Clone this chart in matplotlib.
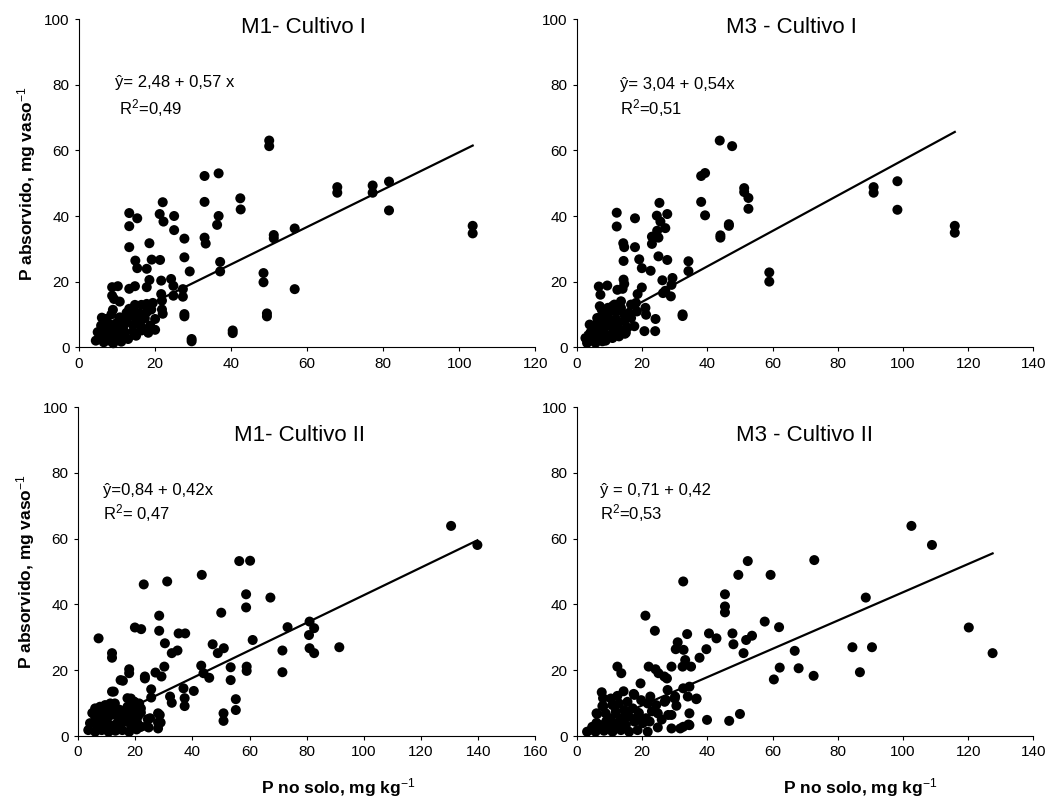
import numpy as np
import matplotlib
matplotlib.use('Agg')
import matplotlib.pyplot as plt

plt.rcParams['font.family'] = ['Liberation Sans', 'DejaVu Sans']
plt.rcParams['mathtext.fontset'] = 'custom'
plt.rcParams['mathtext.rm'] = 'Liberation Sans'
plt.rcParams['mathtext.it'] = 'Liberation Sans:italic'
plt.rcParams['mathtext.bf'] = 'Liberation Sans:bold'

# M1 - Cultivo I
x1 = [4.4, 6.2, 8.0, 9.8, 11.1, 12.9, 4.9, 6.7, 8.4, 10.2, 12.0, 14.2, 16.4, 18.2, 20.0,
      5.8, 8.0, 9.8, 12.0, 14.2, 16.0, 18.7, 7.1, 10.7, 12.4, 17.3, 20.0,
      13.8, 16.0, 17.8, 21.8, 22.0, 8.9, 13.2, 14.7, 16.4, 17.8, 19.4,
      9.2, 10.7, 21.6, 21.8, 8.7, 10.2, 13.2, 14.7, 17.8, 8.7,
      18.5, 21.6, 24.2, 15.3, 17.8, 14.8, 19.1, 21.3, 13.2, 18.5,
      13.2, 15.3, 13.2, 21.2, 22.0, 22.2, 5.5, 7.5, 9.0, 11.5, 6.5, 15.0, 11.5,
      7.0, 9.5, 11.0, 13.5, 15.5, 10.0, 12.5, 14.5, 19.0, 16.5, 6.0, 8.5,
      25.0, 25.0, 27.7, 27.7, 24.8, 24.8, 27.3, 27.3, 27.7, 27.7, 29.1, 29.6, 29.6,
      33.0, 36.7, 33.0, 33.0, 33.3, 36.3, 36.7, 37.1, 37.1,
      40.4, 40.4, 42.4, 42.5, 48.5, 48.5, 49.4, 49.4, 50.0, 50.0, 51.2, 51.2,
      56.7, 56.7, 67.9, 67.9, 77.2, 77.2, 81.5, 81.5, 103.5, 103.5]
y1 = [2.0, 2.5, 2.0, 2.5, 1.7, 2.5, 4.6, 5.1, 4.6, 5.1, 4.6, 4.8, 5.1, 4.4, 5.3,
      6.6, 7.1, 6.4, 7.1, 6.8, 7.1, 6.6, 8.6, 9.1, 8.6, 8.8, 8.6,
      10.2, 10.2, 10.7, 11.5, 10.2, 11.4, 11.7, 12.9, 12.9, 13.2, 13.5,
      14.7, 13.9, 16.2, 14.2, 18.3, 18.6, 17.8, 18.6, 18.3, 15.7,
      20.5, 20.3, 20.8, 24.1, 23.9, 26.4, 26.7, 26.6, 30.5, 31.7,
      40.9, 39.3, 36.9, 40.6, 44.2, 38.3, 3.5, 3.0, 1.2, 3.5, 1.5, 3.5, 6.0,
      4.0, 3.8, 8.0, 9.5, 8.5, 7.5, 10.5, 11.0, 11.5, 6.0, 9.0, 10.0,
      40.0, 35.7, 33.1, 27.4, 18.7, 15.7, 17.7, 15.4, 10.1, 9.4, 23.1, 2.5, 1.8,
      52.2, 53.0, 44.3, 33.4, 31.6, 37.3, 40.0, 26.0, 23.1,
      5.1, 4.3, 45.4, 42.0, 22.6, 19.8, 10.3, 9.4, 63.0, 61.3, 34.2, 33.2,
      36.2, 17.7, 48.8, 47.1, 49.3, 47.1, 50.5, 41.7, 37.0, 34.7]

# M3 - Cultivo I
x2 = [43.8, 47.6, 38.1, 39.3, 51.3, 51.3, 52.6, 52.6, 59.0, 59.0, 91.0, 91.0, 98.3, 98.3, 115.9, 115.9,
      38.1, 39.3, 46.6, 46.6, 44.0, 44.0, 34.2, 34.2, 32.4, 32.4,
      12.2, 17.8, 12.2, 24.5, 27.7, 25.6, 27.1, 24.6, 23.0, 25.0, 23.0, 25.3,
      14.2, 14.5, 17.8, 14.3, 19.1, 25.0, 27.7, 19.9, 22.6,
      14.3, 14.5, 26.2, 29.3, 29.0, 6.7, 9.3, 7.2, 12.4, 14.0,
      19.9, 18.6, 27.1, 28.8, 26.4, 7.6, 10.9, 13.5, 16.6, 18.1,
      21.0, 21.2, 18.4, 24.1, 20.7, 24.0, 3.9,
      6.2, 9.3, 11.9, 14.5, 16.6, 17.6, 4.1, 6.2, 8.3, 10.3, 12.4, 15.0,
      2.6, 4.7, 6.7, 8.8, 10.9, 12.9, 3.1, 5.7, 7.8, 14.5, 10.3, 8.3, 14.7,
      5.0, 7.0, 9.0, 11.0, 13.0, 15.5, 4.0, 6.0, 8.0, 10.0, 12.0, 16.0, 9.5, 11.5, 13.5, 7.0]
y2 = [63.0, 61.3, 52.2, 53.1, 48.5, 47.3, 45.5, 42.2, 22.8, 20.0, 48.8, 47.1, 50.6, 41.9, 37.0, 34.9,
      44.3, 40.2, 37.5, 37.0, 34.1, 33.4, 26.2, 23.2, 10.0, 9.5,
      41.0, 39.3, 36.8, 40.1, 40.6, 38.3, 36.3, 35.5, 33.7, 33.4, 31.5, 44.0,
      31.7, 30.5, 30.5, 26.3, 26.8, 27.7, 26.6, 24.1, 23.3,
      20.6, 19.3, 20.4, 21.1, 19.0, 18.5, 18.8, 16.0, 17.5, 17.8,
      18.2, 16.2, 17.2, 15.5, 16.5, 11.4, 12.5, 14.0, 13.0, 13.5,
      12.0, 9.9, 10.9, 8.6, 4.9, 4.9, 6.9,
      8.9, 9.4, 10.9, 9.9, 8.9, 6.4, 4.4, 5.4, 5.9, 6.4, 6.9, 4.4,
      2.8, 2.3, 2.6, 2.0, 2.8, 3.3, 1.3, 1.3, 1.8, 7.9, 8.4, 7.7, 4.1,
      3.8, 4.0, 3.5, 4.5, 5.5, 6.0, 2.0, 7.0, 10.0, 11.0, 8.5, 10.5, 12.0, 13.0, 12.0, 12.5]

# M1 - Cultivo II
x3 = [130.5, 139.7, 56.4, 60.2, 43.3, 31.2, 23.0, 58.8, 58.8, 67.3, 50.1, 28.4, 28.4, 35.2, 37.5,
      19.9, 22.1, 30.4, 47.1, 51.0, 48.9, 34.8, 32.8, 61.1, 71.5, 73.3, 81.0, 80.8, 82.6, 81.0,
      82.6, 91.4, 71.5, 30.2, 29.2, 27.1, 43.1, 43.9, 45.9, 53.4, 53.4, 59.0, 59.0, 36.9, 37.3,
      37.3, 40.5, 32.2, 32.8, 55.2, 55.2, 50.9, 50.9, 7.2, 11.9, 11.9, 17.9, 17.9, 14.9, 11.9,
      12.5, 23.4, 23.4, 25.6, 25.6, 28.0, 28.0, 28.0, 24.4, 24.7, 21.8, 19.7, 20.3, 17.3, 21.2,
      6.0, 7.7, 9.5, 11.3, 12.9, 18.5, 19.6, 21.4, 22.0, 17.3, 19.0, 22.0,
      6.0, 8.3, 10.7, 13.1, 15.5, 17.9, 4.2, 6.5, 8.9, 11.3, 13.7, 16.1, 18.5, 20.8,
      3.6, 6.0, 8.3, 10.7, 13.1, 15.5, 17.9, 22.0, 25.2, 28.6, 28.9, 15.7, 12.5,
      5.0, 7.0, 9.5, 12.0, 14.5, 16.8, 19.5, 21.0, 24.0, 10.0, 14.0, 20.5]
y3 = [63.9, 58.1, 53.2, 53.3, 49.0, 47.0, 46.1, 43.1, 39.1, 42.1, 37.5, 36.6, 32.0, 31.2, 31.2,
      33.0, 32.5, 28.2, 27.9, 26.7, 25.2, 26.0, 25.2, 29.2, 26.0, 33.1, 34.8, 30.7, 32.8, 26.7,
      25.2, 27.0, 19.4, 21.1, 18.1, 19.3, 21.4, 19.1, 17.7, 20.9, 17.0, 21.1, 19.8, 14.5, 11.5,
      9.1, 13.7, 12.0, 10.1, 11.2, 7.9, 6.9, 4.6, 29.7, 25.2, 23.8, 20.3, 19.1, 17.0, 13.5,
      9.7, 18.1, 17.5, 14.2, 11.7, 6.9, 4.1, 2.3, 5.1, 2.6, 2.8, 10.4, 9.4, 11.5, 9.4,
      8.4, 8.9, 9.4, 9.9, 9.9, 11.4, 10.4, 9.9, 8.4, 8.9, 7.9, 7.1,
      5.9, 5.4, 5.9, 6.4, 5.9, 5.4, 3.9, 3.3, 3.9, 3.3, 3.9, 4.4, 3.3, 3.9,
      1.8, 1.3, 1.8, 1.3, 1.6, 1.8, 1.3, 2.8, 5.4, 6.4, 4.1, 16.8, 13.5,
      7.0, 7.0, 7.5, 8.0, 8.0, 7.0, 6.0, 6.0, 3.0, 2.5, 2.5, 2.0]

# M3 - Cultivo II
x4 = [102.6, 108.9, 52.4, 72.8, 49.5, 59.4, 32.6, 45.4, 45.4, 45.4, 88.6, 21.0, 23.9, 57.6, 62.0,
      120.2, 40.5, 47.7, 33.8, 42.8, 30.9, 30.3, 32.7, 39.7, 48.0, 53.7, 51.9, 51.1, 37.6, 33.2,
      66.8, 84.5, 90.5, 127.5, 68.0, 62.2, 60.4, 72.6, 86.8, 22.0, 29.0, 32.4, 35.0, 24.1, 25.0,
      26.8, 27.6, 19.5, 17.4, 14.3, 12.4, 13.6, 34.5, 34.0, 36.6, 34.5, 34.5, 31.7, 29.0, 29.0,
      39.9, 46.7, 50.0, 30.1, 30.5, 27.8, 27.3, 7.6, 6.0, 7.8,
      10.4, 12.4, 17.6, 10.9, 12.9, 15.5, 19.7, 8.1, 6.2, 8.8, 11.9, 14.5, 17.1, 21.7, 24.3,
      26.9, 30.0, 24.8, 28.0, 4.7, 7.2, 9.8, 12.4, 15.0, 17.6, 20.2, 22.3, 24.8,
      3.1, 5.7, 8.3, 10.9, 13.5, 16.0, 18.6, 21.7, 10.4, 13.5, 16.0, 18.6, 21.2,
      32.6, 36.7, 32.6, 34.2,
      6.0, 9.0, 11.5, 14.0, 19.0, 23.0, 26.0, 4.5, 8.0, 22.5]
y4 = [63.9, 58.1, 53.2, 53.5, 49.0, 49.0, 47.0, 43.1, 39.4, 37.6, 42.1, 36.6, 32.0, 34.8, 33.1,
      33.0, 31.2, 31.2, 31.0, 29.7, 28.5, 26.4, 26.2, 26.4, 27.9, 30.5, 29.2, 25.2, 23.8, 23.1,
      25.9, 27.0, 27.0, 25.2, 20.6, 20.8, 17.2, 18.3, 19.4, 21.1, 21.1, 21.1, 21.1, 20.3, 19.1,
      18.1, 17.5, 16.0, 12.8, 13.6, 21.1, 19.1, 15.0, 12.0, 11.2, 6.9, 3.3, 2.3, 2.3, 6.4,
      4.9, 4.6, 6.7, 12.0, 9.2, 14.0, 11.0, 13.3, 6.9, 9.1,
      11.4, 12.2, 12.5, 9.4, 9.9, 10.4, 10.9, 9.1, 6.7, 6.9, 7.4, 7.9, 8.4, 9.9, 9.4,
      10.4, 11.4, 6.9, 6.4, 2.8, 3.3, 2.8, 3.9, 3.3, 4.4, 3.9, 4.4, 2.6,
      1.3, 1.3, 1.6, 1.3, 1.8, 1.3, 1.8, 1.3, 5.4, 5.4, 5.9, 5.9, 5.4,
      14.5, 11.4, 2.8, 3.5,
      4.0, 4.5, 3.0, 5.0, 7.0, 7.5, 5.0, 2.0, 11.5, 12.0]

titles = ['M1- Cultivo I', 'M3 - Cultivo I', 'M1- Cultivo II', 'M3 - Cultivo II']
eq_text = ['ŷ= 2,48 + 0,57 x', 'ŷ= 3,04 + 0,54x', 'ŷ=0,84 + 0,42x', 'ŷ = 0,71 + 0,42']
r2_text = [' R$^2$=0,49', 'R$^2$=0,51', 'R$^2$= 0,47', 'R$^2$=0,53']
intercepts = [2.48, 3.04, 0.84, 0.71]
slopes = [0.57, 0.54, 0.42, 0.43]
x_max = [120, 140, 160, 140]

xs = [x1, x2, x3, x4]
ys = [y1, y2, y3, y4]

# layout (figure fractions)
boxes = [[0.075, 0.566, 0.433, 0.41],
         [0.5474, 0.566, 0.433, 0.41],
         [0.074, 0.08, 0.434, 0.411],
         [0.5474, 0.08, 0.433, 0.411]]
title_pos = [(0.491, 0.975), (0.469, 0.975), (0.485, 0.915), (0.498, 0.915)]
eq_pos = [(0.079, 0.808, 0.73), (0.094, 0.80, 0.73), (0.055, 0.748, 0.678), (0.05, 0.748, 0.678)]
xlabel_x = [None, None, 0.568, 0.62]

fig = plt.figure(figsize=(10.54, 8), dpi=100)

for i in range(4):
    ax = fig.add_axes(boxes[i])
    ax.scatter(xs[i], ys[i], s=52, c='black', edgecolors='none', clip_on=False, zorder=3)
    xl = np.array([min(xs[i]), max(xs[i])])
    ax.plot(xl, intercepts[i] + slopes[i]*xl, color='black', lw=1.6, zorder=2)

    ax.set_xlim(0, x_max[i])
    ax.set_ylim(0, 100)
    ax.set_xticks(np.arange(0, x_max[i] + 1, 20))
    ax.set_yticks(np.arange(0, 101, 20))
    ax.spines['top'].set_visible(False)
    ax.spines['right'].set_visible(False)
    for s in ['left', 'bottom']:
        ax.spines[s].set_linewidth(0.8)
    ax.tick_params(direction='out', length=3.2, width=0.8, labelsize=11)

    ax.text(title_pos[i][0], title_pos[i][1], titles[i], transform=ax.transAxes,
            ha='center', va='center', fontsize=16)
    ax.text(eq_pos[i][0], eq_pos[i][1], eq_text[i], transform=ax.transAxes,
            ha='left', va='center', fontsize=12)
    ax.text(eq_pos[i][0], eq_pos[i][2], r2_text[i], transform=ax.transAxes,
            ha='left', va='center', fontsize=12)

    if i in (0, 2):
        ax.text(-0.114, 0.5, r'P absorvido, mg vaso$^{-1}$', transform=ax.transAxes,
                rotation=90, ha='center', va='center', fontsize=12.5, fontweight='bold')
    if i in (2, 3):
        ax.text(xlabel_x[i], -0.158, r'P no solo, mg kg$^{-1}$', transform=ax.transAxes,
                ha='center', va='center', fontsize=12.5, fontweight='bold')

fig.savefig('out.png', dpi=100)
